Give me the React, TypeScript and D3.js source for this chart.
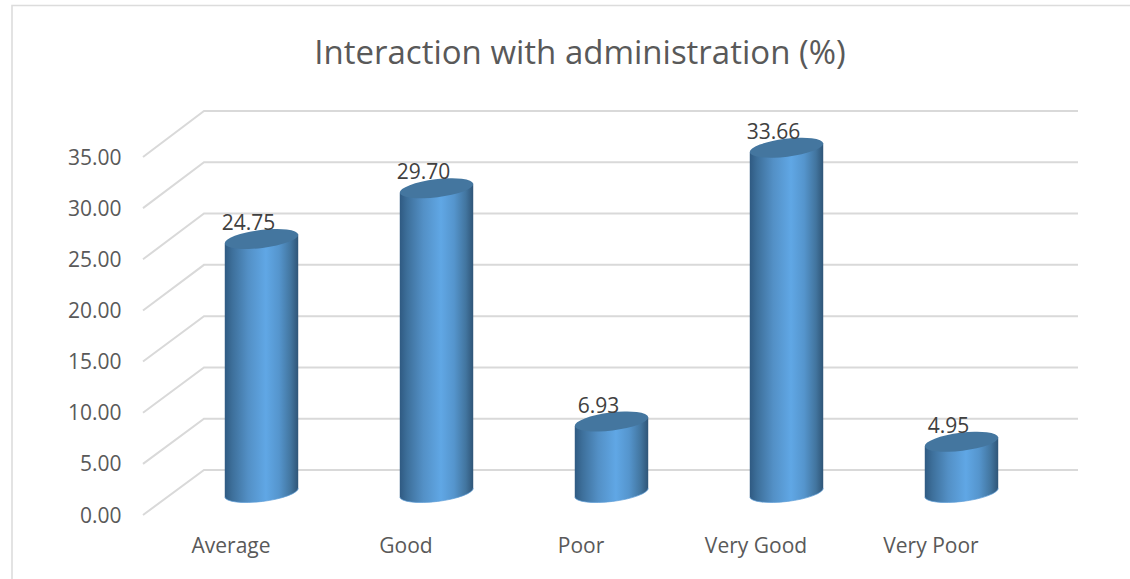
import { useEffect, useRef } from "react";
import * as d3 from "d3";

const categories = ["Average", "Good", "Poor", "Very Good", "Very Poor"];
const values = [24.75, 29.7, 6.93, 33.66, 4.95];
const ticks = [0, 5, 10, 15, 20, 25, 30, 35];

export default function App() {
  const ref = useRef<SVGSVGElement>(null);

  useEffect(() => {
    if (!ref.current) return;
    const width = 1130;
    const height = 579;
    const font = "'Open Sans', sans-serif";
    const rx = 37;
    const ry = 9;
    const tilt = 7;
    const dx = rx * Math.cos((tilt * Math.PI) / 180);
    const dy = rx * Math.sin((tilt * Math.PI) / 180);

    const svg = d3.select(ref.current);
    svg.selectAll("*").remove();

    // front edge of the floor, back wall, and the plane the cylinders stand on
    const yFront = d3.scaleLinear().domain([0, 35]).range([515, 157]);
    const yBack = d3.scaleLinear().domain([0, 35]).range([470, 111]);
    const yBar = d3.scaleLinear().domain([0, 35]).range([492.5, 134]);
    const x = d3.scaleBand().domain(categories).range([174, 1049]);

    const defs = svg.append("defs");
    const grad = defs.append("linearGradient").attr("id", "body");
    [
      [0, "#2f5a82"],
      [0.1, "#3d6f9a"],
      [0.32, "#5390c6"],
      [0.56, "#60a7e5"],
      [0.74, "#5595cd"],
      [0.9, "#42759f"],
      [1, "#2f5577"],
    ].forEach(([o, c]) => grad.append("stop").attr("offset", o as number).attr("stop-color", c as string));

    // chart frame, only top and left show
    svg.append("path")
      .attr("d", "M12,579V5.5H1130")
      .attr("fill", "none")
      .attr("stroke", "#dcdcdc")
      .attr("stroke-width", 1.6);

    // gridlines
    const grid = svg.append("g").attr("fill", "none").attr("stroke", "#d9d9d9").attr("stroke-width", 2);
    ticks.forEach(t => {
      grid.append("path").attr("d", `M143,${yFront(t)}L204,${yBack(t)}H1078`);
    });

    // y labels
    svg.append("g")
      .selectAll("text")
      .data(ticks)
      .join("text")
      .attr("x", 121.5)
      .attr("y", d => yFront(d) + 7.5)
      .attr("text-anchor", "end")
      .attr("font-family", font)
      .attr("font-size", 21)
      .attr("fill", "#595959")
      .text(d => d3.format(".2f")(d));

    // cylinders
    const bars = svg.append("g");
    values.forEach((v, i) => {
      const cx = (x(categories[i]) || 0) + x.bandwidth() / 2;
      const top = yBar(v);
      const base = yBar(0);
      bars.append("path")
        .attr("d", `M${cx - dx},${top + dy}L${cx + dx},${top - dy}L${cx + dx},${base - dy}A${rx},${ry} ${-tilt} 0 1 ${cx - dx},${base + dy}Z`)
        .attr("fill", "url(#body)");
      // light rim along the bottom edge
      bars.append("path")
        .attr("d", `M${cx + dx},${base - dy}A${rx},${ry} ${-tilt} 0 1 ${cx - dx},${base + dy}`)
        .attr("fill", "none")
        .attr("stroke", "#5b9bd5")
        .attr("stroke-width", 1)
        .attr("opacity", 0.7);
      bars.append("ellipse")
        .attr("cx", cx)
        .attr("cy", top)
        .attr("rx", rx)
        .attr("ry", ry)
        .attr("transform", `rotate(${-tilt},${cx},${top})`)
        .attr("fill", "#44769f");
      svg.append("text")
        .attr("x", cx - 13)
        .attr("y", top - 9)
        .attr("text-anchor", "middle")
        .attr("font-family", font)
        .attr("font-size", 21)
        .attr("fill", "#404040")
        .text(d3.format(".2f")(v));
    });

    // category labels
    svg.append("g")
      .selectAll("text")
      .data(categories)
      .join("text")
      .attr("x", d => (x(d) || 0) + x.bandwidth() / 2 - 30.5)
      .attr("y", 553)
      .attr("text-anchor", "middle")
      .attr("font-family", font)
      .attr("font-size", 21)
      .attr("fill", "#595959")
      .text(d => d);

    svg.append("text")
      .attr("x", 580)
      .attr("y", 64)
      .attr("text-anchor", "middle")
      .attr("font-family", font)
      .attr("font-size", 33)
      .attr("fill", "#595959")
      .text("Interaction with administration (%)");

    svg.attr("width", width).attr("height", height);
  }, []);

  return <svg ref={ref} style={{ position: "absolute", left: 0, top: 0, display: "block" }}></svg>;
}
